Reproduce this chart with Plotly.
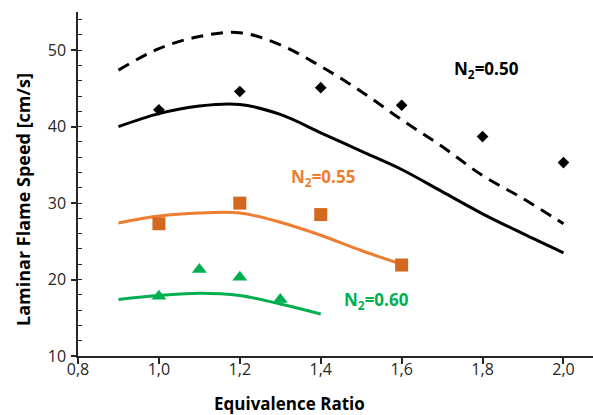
import plotly.graph_objects as go

# Measured flame speeds (symbols)
phi_050 = [1.0, 1.2, 1.4, 1.6, 1.8, 2.0]
sl_050 = [42.2, 44.6, 45.1, 42.8, 38.7, 35.3]
phi_055 = [1.0, 1.2, 1.4, 1.6]
sl_055 = [27.3, 30.0, 28.5, 21.9]
phi_060 = [1.0, 1.1, 1.2, 1.3]
sl_060 = [17.8, 21.3, 20.3, 17.4]

# Computed flame speeds (curves)
phi_calc_050 = [0.9, 1.0, 1.1, 1.2, 1.3, 1.4, 1.5, 1.6, 1.7, 1.8, 1.9, 2.0]
sl_calc_050 = [40.0, 41.7, 42.7, 42.9, 41.6, 39.2, 36.8, 34.4, 31.5, 28.6, 26.0, 23.5]
phi_calc_050b = [0.9, 1.0, 1.1, 1.2, 1.3, 1.4, 1.5, 1.6, 1.7, 1.8, 1.9, 2.0]
sl_calc_050b = [47.4, 50.2, 51.8, 52.3, 50.7, 47.9, 44.6, 40.9, 37.4, 33.6, 30.6, 27.3]
phi_calc_055 = [0.9, 1.0, 1.1, 1.2, 1.3, 1.4, 1.5, 1.6]
sl_calc_055 = [27.4, 28.3, 28.7, 28.7, 27.5, 25.8, 23.8, 22.0]
phi_calc_060 = [0.9, 1.0, 1.1, 1.2, 1.3, 1.4]
sl_calc_060 = [17.4, 17.9, 18.2, 17.9, 16.8, 15.5]

x_ticks = [0.8, 1.0, 1.2, 1.4, 1.6, 1.8, 2.0]
x_ticklabels = ["0,8", "1,0", "1,2", "1,4", "1,6", "1,8", "2,0"]
y_ticks = [10, 20, 30, 40, 50]

BLACK = "#000000"
AXIS = "#262626"
ORANGE_LINE = "#ED7D31"
ORANGE_MARK = "#D2691E"
GREEN = "#00B050"
FONT = "Open Sans"

W, H = 593, 415
M_L, M_R, M_T, M_B = 78, 0, 12, 59

fig = go.Figure()

fig.add_trace(go.Scatter(x=phi_calc_050b, y=sl_calc_050b, mode="lines",
                         line=dict(color=BLACK, width=3, dash="12px,8px", shape="spline")))
fig.add_trace(go.Scatter(x=phi_calc_050, y=sl_calc_050, mode="lines",
                         line=dict(color=BLACK, width=3, shape="spline")))
fig.add_trace(go.Scatter(x=phi_calc_055, y=sl_calc_055, mode="lines",
                         line=dict(color=ORANGE_LINE, width=3, shape="spline")))
fig.add_trace(go.Scatter(x=phi_calc_060, y=sl_calc_060, mode="lines",
                         line=dict(color=GREEN, width=3, shape="spline")))

fig.add_trace(go.Scatter(x=phi_050, y=sl_050, mode="markers",
                         marker=dict(symbol="diamond", size=9, color=BLACK)))
fig.add_trace(go.Scatter(x=phi_055, y=sl_055, mode="markers",
                         marker=dict(symbol="square", size=13, color=ORANGE_MARK)))
fig.add_trace(go.Scatter(x=phi_060, y=sl_060, mode="markers",
                         marker=dict(symbol="triangle-up", size=13, color=GREEN)))

# Series labels
labels = [
    ("N<sub>2</sub>=0.50", 1.81, 47.5, BLACK),
    ("N<sub>2</sub>=0.55", 1.405, 33.4, ORANGE_LINE),
    ("N<sub>2</sub>=0.60", 1.538, 17.2, GREEN),
]
for text, x, y, color in labels:
    fig.add_annotation(x=x, y=y, text=text, showarrow=False,
                       font=dict(family=FONT, size=17, color=color, weight="bold"))

# Axis titles placed as paper annotations
fig.add_annotation(xref="paper", yref="paper",
                   x=(289 - M_L) / (W - M_L - M_R), y=(H - M_B - 403) / (H - M_T - M_B),
                   xanchor="center", yanchor="middle",
                   text="<b>Equivalence Ratio</b>", showarrow=False,
                   font=dict(family=FONT, size=17, color=BLACK))
fig.add_annotation(xref="paper", yref="paper",
                   x=(23 - M_L) / (W - M_L - M_R), y=(H - M_B - 200) / (H - M_T - M_B),
                   xanchor="center", yanchor="middle",
                   text="<b>Laminar Flame Speed [cm/s]</b>", showarrow=False, textangle=-90,
                   font=dict(family=FONT, size=18, color=BLACK))

fig.update_layout(
    width=W, height=H,
    margin=dict(l=M_L, r=M_R, t=M_T, b=M_B),
    plot_bgcolor="white", paper_bgcolor="white",
    showlegend=False,
    font=dict(family=FONT, size=16, color=AXIS),
    xaxis=dict(
        range=[0.8, 2.073], tickvals=x_ticks, ticktext=x_ticklabels,
        showline=True, linecolor=AXIS, linewidth=1.5,
        ticks="outside", ticklen=6, tickwidth=1.5, tickcolor=AXIS,
        ticklabelstandoff=-8,
        showgrid=False, zeroline=False,
    ),
    yaxis=dict(
        range=[10, 55], tickvals=y_ticks,
        showline=True, linecolor=AXIS, linewidth=1.5,
        ticks="outside", ticklen=5, tickwidth=1.5, tickcolor=AXIS,
        ticklabelstandoff=2,
        minor=dict(dtick=2, ticks="inside", ticklen=4, tickwidth=1.2, tickcolor=AXIS),
        showgrid=False, zeroline=False,
    ),
    yaxis2=dict(
        range=[10, 55], overlaying="y", side="left", tickvals=y_ticks,
        ticks="inside", ticklen=5, tickwidth=1.5, tickcolor=AXIS,
        showticklabels=False, showgrid=False, zeroline=False, showline=False,
    ),
)

fig.write_html("out.html")
